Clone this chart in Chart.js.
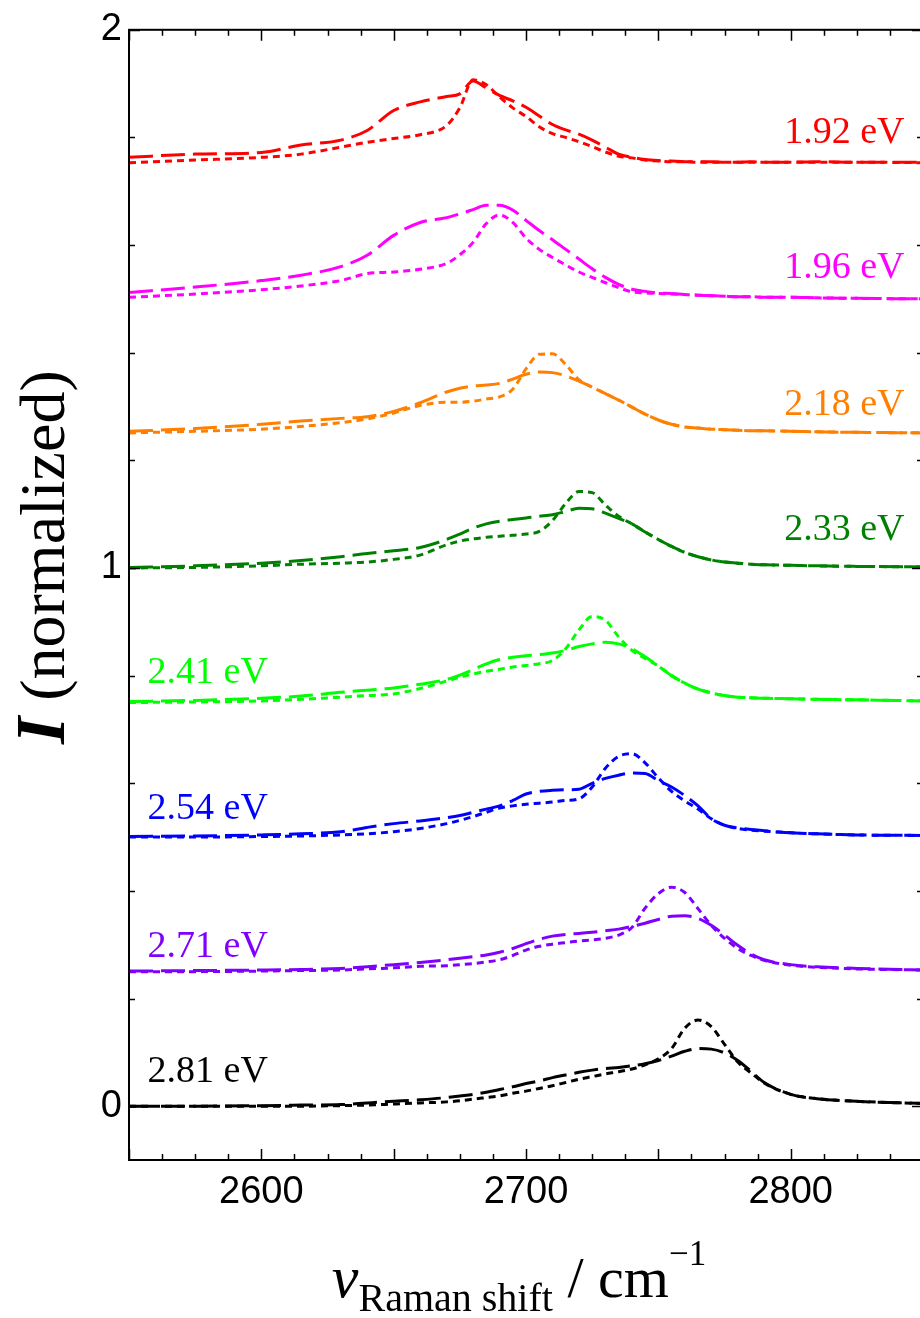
<!DOCTYPE html>
<html>
<head>
<meta charset="utf-8">
<script src="https://cdn.jsdelivr.net/npm/chart.js@4.4.1/dist/chart.umd.min.js"></script>
<style>
  html, body { margin: 0; padding: 0; background: #fff; overflow: hidden; }
  #cadre { width: 940px; height: 1318px; }
</style>
</head>
<body>
<div id="cadre"><canvas id="raman" width="940" height="1318"></canvas></div>
<script>
// Axe des abscisses : décalage Raman (cm-1)
const shifts = [
  2550, 2575, 2600, 2615, 2630, 2640, 2650, 2660,
  2670, 2675, 2680, 2685, 2690, 2695, 2700, 2705,
  2710, 2715, 2720, 2725, 2730, 2735, 2740, 2745,
  2750, 2755, 2760, 2765, 2770, 2775, 2780, 2785,
  2790, 2800, 2810, 2825, 2850
];

// Energies d'excitation et décalages verticaux
const energies = ['1.92 eV', '1.96 eV', '2.18 eV', '2.33 eV', '2.41 eV', '2.54 eV', '2.71 eV', '2.81 eV'];
const offsets = [1.75, 1.5, 1.25, 1.0, 0.75, 0.5, 0.25, 0];
const couleurs = ['#ff0000', '#ff00ff', '#ff8000', '#008000', '#00ff00', '#0000ff', '#8000ff', '#000000'];

// Graduations
const xTickLabels = [2600, 2700, 2800];
const yTickLabels = [0, 1, 2];

// Spectres : courbe large (tirets) et courbe étroite (pointillés)
const large192 = [
  0.013, 0.019, 0.022, 0.036, 0.045, 0.063, 0.100, 0.116,
  0.126, 0.131, 0.155, 0.142, 0.128, 0.118, 0.106, 0.090,
  0.074, 0.064, 0.056, 0.045, 0.032, 0.019, 0.013, 0.009,
  0.007, 0.006, 0.005, 0.005, 0.005, 0.004, 0.004, 0.005,
  0.004, 0.004, 0.005, 0.004, 0.004
];
const etroit192 = [
  0.003, 0.008, 0.013, 0.019, 0.032, 0.041, 0.048, 0.055,
  0.072, 0.105, 0.157, 0.148, 0.125, 0.105, 0.089, 0.070,
  0.057, 0.050, 0.042, 0.033, 0.023, 0.015, 0.012, 0.008,
  0.006, 0.005, 0.005, 0.004, 0.004, 0.004, 0.004, 0.004,
  0.004, 0.004, 0.004, 0.004, 0.003
];
const large196 = [
  0.012, 0.022, 0.034, 0.044, 0.060, 0.081, 0.118, 0.142,
  0.151, 0.158, 0.166, 0.174, 0.174, 0.165, 0.146, 0.127,
  0.110, 0.092, 0.074, 0.056, 0.040, 0.027, 0.018, 0.014,
  0.011, 0.010, 0.008, 0.007, 0.006, 0.005, 0.004, 0.004,
  0.003, 0.003, 0.002, 0.001, 0.000
];
const etroit196 = [
  0.003, 0.009, 0.017, 0.024, 0.034, 0.047, 0.050, 0.055,
  0.066, 0.082, 0.105, 0.140, 0.156, 0.142, 0.113, 0.092,
  0.077, 0.063, 0.050, 0.040, 0.030, 0.021, 0.013, 0.011,
  0.010, 0.009, 0.008, 0.007, 0.006, 0.005, 0.004, 0.004,
  0.003, 0.003, 0.002, 0.001, 0.000
];
const large218 = [
  0.004, 0.009, 0.017, 0.023, 0.028, 0.031, 0.041, 0.057,
  0.077, 0.084, 0.088, 0.090, 0.093, 0.101, 0.110, 0.114,
  0.113, 0.107, 0.097, 0.086, 0.074, 0.062, 0.049, 0.036,
  0.025, 0.017, 0.012, 0.010, 0.008, 0.007, 0.006, 0.005,
  0.005, 0.004, 0.003, 0.002, 0.001
];
const etroit218 = [
  0.001, 0.004, 0.008, 0.013, 0.020, 0.027, 0.038, 0.052,
  0.058, 0.058, 0.060, 0.064, 0.068, 0.082, 0.120, 0.147,
  0.148, 0.128, 0.100, 0.086, 0.074, 0.062, 0.049, 0.036,
  0.025, 0.017, 0.012, 0.010, 0.008, 0.007, 0.006, 0.005,
  0.005, 0.004, 0.003, 0.002, 0.001
];
const large233 = [
  0.001, 0.004, 0.009, 0.014, 0.021, 0.027, 0.032, 0.038,
  0.053, 0.063, 0.074, 0.082, 0.087, 0.090, 0.093, 0.096,
  0.099, 0.105, 0.111, 0.110, 0.102, 0.092, 0.082, 0.067,
  0.053, 0.040, 0.029, 0.021, 0.015, 0.011, 0.009, 0.007,
  0.006, 0.005, 0.004, 0.003, 0.002
];
const etroit233 = [
  0.000, 0.001, 0.004, 0.007, 0.009, 0.011, 0.016, 0.024,
  0.043, 0.050, 0.054, 0.057, 0.059, 0.061, 0.063, 0.068,
  0.088, 0.120, 0.142, 0.140, 0.117, 0.096, 0.082, 0.067,
  0.053, 0.040, 0.029, 0.021, 0.015, 0.011, 0.009, 0.007,
  0.006, 0.005, 0.004, 0.003, 0.002
];
const large241 = [
  0.002, 0.004, 0.008, 0.012, 0.019, 0.023, 0.027, 0.034,
  0.043, 0.051, 0.061, 0.072, 0.080, 0.084, 0.087, 0.089,
  0.092, 0.097, 0.104, 0.109, 0.112, 0.109, 0.100, 0.085,
  0.068, 0.050, 0.036, 0.025, 0.018, 0.013, 0.010, 0.009,
  0.008, 0.007, 0.006, 0.005, 0.003
];
const etroit241 = [
  0.000, 0.001, 0.003, 0.006, 0.010, 0.013, 0.016, 0.026,
  0.040, 0.047, 0.053, 0.058, 0.062, 0.066, 0.069, 0.072,
  0.078, 0.100, 0.135, 0.160, 0.153, 0.122, 0.097, 0.082,
  0.068, 0.050, 0.036, 0.025, 0.018, 0.013, 0.010, 0.009,
  0.008, 0.007, 0.006, 0.005, 0.003
];
const large254 = [
  0.001, 0.002, 0.004, 0.006, 0.010, 0.018, 0.025, 0.030,
  0.036, 0.040, 0.046, 0.052, 0.058, 0.068, 0.080, 0.085,
  0.087, 0.088, 0.089, 0.100, 0.109, 0.115, 0.119, 0.118,
  0.105, 0.093, 0.077, 0.058, 0.034, 0.022, 0.017, 0.014,
  0.012, 0.008, 0.006, 0.004, 0.003
];
const etroit254 = [
  0.000, 0.000, 0.001, 0.002, 0.004, 0.006, 0.010, 0.016,
  0.025, 0.031, 0.038, 0.046, 0.054, 0.058, 0.061, 0.063,
  0.065, 0.068, 0.071, 0.093, 0.128, 0.150, 0.155, 0.138,
  0.110, 0.085, 0.067, 0.052, 0.034, 0.022, 0.016, 0.013,
  0.011, 0.008, 0.006, 0.004, 0.003
];
const large271 = [
  0.001, 0.002, 0.003, 0.004, 0.006, 0.009, 0.013, 0.017,
  0.022, 0.025, 0.028, 0.031, 0.036, 0.043, 0.052, 0.060,
  0.066, 0.069, 0.071, 0.073, 0.076, 0.079, 0.084, 0.090,
  0.097, 0.103, 0.104, 0.099, 0.086, 0.068, 0.049, 0.033,
  0.022, 0.013, 0.009, 0.006, 0.003
];
const etroit271 = [
  0.000, 0.000, 0.001, 0.002, 0.003, 0.005, 0.007, 0.010,
  0.011, 0.013, 0.015, 0.018, 0.022, 0.030, 0.040, 0.047,
  0.051, 0.054, 0.057, 0.059, 0.062, 0.068, 0.082, 0.118,
  0.145, 0.157, 0.147, 0.117, 0.086, 0.062, 0.043, 0.030,
  0.021, 0.012, 0.008, 0.005, 0.003
];
const large281 = [
  0.000, 0.000, 0.001, 0.002, 0.003, 0.006, 0.009, 0.012,
  0.016, 0.019, 0.022, 0.026, 0.031, 0.036, 0.042, 0.047,
  0.053, 0.058, 0.063, 0.067, 0.070, 0.072, 0.075, 0.079,
  0.085, 0.093, 0.102, 0.107, 0.106, 0.099, 0.085, 0.065,
  0.044, 0.022, 0.014, 0.009, 0.005
];
const etroit281 = [
  0.000, 0.000, 0.000, 0.000, 0.001, 0.002, 0.004, 0.006,
  0.008, 0.010, 0.013, 0.016, 0.019, 0.024, 0.028, 0.033,
  0.038, 0.044, 0.050, 0.055, 0.060, 0.064, 0.069, 0.077,
  0.088, 0.107, 0.145, 0.160, 0.148, 0.115, 0.082, 0.062,
  0.043, 0.022, 0.014, 0.009, 0.005
];

const spectres = [
  [large192, etroit192], [large196, etroit196], [large218, etroit218], [large233, etroit233],
  [large241, etroit241], [large254, etroit254], [large271, etroit271], [large281, etroit281]
];

// Position des étiquettes (coordonnées des données, relatives à la ligne de base)
const etiquetteX = [2843, 2843, 2843, 2843, 2557, 2557, 2557, 2557];
const etiquetteY = [0.063, 0.063, 0.059, 0.077, 0.060, 0.058, 0.052, 0.069];
const etiquetteAlign = ['right', 'right', 'right', 'right', 'left', 'left', 'left', 'left'];

const serif = '"Liberation Serif", "Times New Roman", serif';
const sans = '"Liberation Sans", Arial, sans-serif';

// Construire les jeux de données
const datasets = [];
energies.forEach((e, i) => {
  const [large, etroit] = spectres[i];
  datasets.push({
    label: e + ' (large)',
    data: shifts.map((x, k) => ({ x: x, y: large[k] + offsets[i] })),
    borderColor: couleurs[i],
    borderWidth: 3,
    borderDash: [24, 8],
    pointRadius: 0,
    cubicInterpolationMode: 'monotone',
    fill: false
  });
  datasets.push({
    label: e + ' (étroit)',
    data: shifts.map((x, k) => ({ x: x, y: etroit[k] + offsets[i] })),
    borderColor: couleurs[i],
    borderWidth: 3,
    borderDash: [7, 5],
    pointRadius: 0,
    cubicInterpolationMode: 'monotone',
    fill: false
  });
});

// Cadre, graduations intérieures, étiquettes et titres des axes
const decor = {
  id: 'decor',
  afterDraw(chart) {
    const ctx = chart.ctx;
    const a = chart.chartArea;
    const sx = chart.scales.x;
    const sy = chart.scales.y;
    ctx.save();
    ctx.strokeStyle = '#000';
    ctx.lineWidth = 2;
    ctx.strokeRect(a.left, a.top, a.right - a.left, a.bottom - a.top);

    ctx.lineWidth = 1.5;
    ctx.beginPath();
    for (let v = sx.min; v <= sx.max + 0.01; v += 12.5) {
      const px = Math.round(sx.getPixelForValue(v)) + 0.5;
      const len = (v % 50 === 0) ? 11 : 6;
      ctx.moveTo(px, a.bottom); ctx.lineTo(px, a.bottom - len);
      ctx.moveTo(px, a.top); ctx.lineTo(px, a.top + len);
    }
    for (let k = 0; k <= 10; k++) {
      const v = k * 0.2;
      const py = Math.round(sy.getPixelForValue(v)) + 0.5;
      const len = (k % 5 === 0) ? 11 : 6;
      ctx.moveTo(a.left, py); ctx.lineTo(a.left + len, py);
      ctx.moveTo(a.right, py); ctx.lineTo(a.right - len, py);
    }
    ctx.stroke();

    // Etiquettes des énergies
    ctx.font = '38px ' + serif;
    ctx.textBaseline = 'alphabetic';
    energies.forEach((e, i) => {
      ctx.fillStyle = couleurs[i];
      ctx.textAlign = etiquetteAlign[i];
      const px = sx.getPixelForValue(etiquetteX[i]);
      const py = sy.getPixelForValue(offsets[i] + etiquetteY[i]);
      ctx.fillText(e, px, py + 13);
    });

    // Titre de l'axe des ordonnées
    ctx.save();
    ctx.translate(64, 744);
    ctx.rotate(-Math.PI / 2);
    ctx.fillStyle = '#000';
    ctx.textAlign = 'left';
    ctx.font = 'italic bold 70px ' + serif;
    ctx.fillText('I', 0, 0);
    const wI = ctx.measureText('I').width;
    ctx.font = '64px ' + serif;
    ctx.fillText(' (normalized)', wI, 0);
    ctx.restore();

    // Titre de l'axe des abscisses
    ctx.fillStyle = '#000';
    ctx.textAlign = 'left';
    const morceaux = [
      { t: 'ν', f: 'italic 60px ' + serif, dy: 0 },
      { t: 'Raman shift', f: '40px ' + serif, dy: 14 },
      { t: ' / cm', f: '58px ' + serif, dy: 0 },
      { t: '−1', f: '35px ' + serif, dy: -32 }
    ];
    let total = 0;
    morceaux.forEach(m => { ctx.font = m.f; m.w = ctx.measureText(m.t).width; total += m.w; });
    let x = 519 - total / 2;
    morceaux.forEach(m => {
      ctx.font = m.f;
      ctx.fillText(m.t, x, 1297 + m.dy);
      x += m.w;
    });
    ctx.restore();
  }
};

const ctx = document.getElementById('raman').getContext('2d');
new Chart(ctx, {
  type: 'line',
  data: { datasets: datasets },
  options: {
    responsive: false,
    animation: false,
    devicePixelRatio: 1,
    layout: { padding: { left: 0, right: 17, top: 27, bottom: 0 } },
    plugins: {
      legend: { display: false },
      tooltip: { enabled: false }
    },
    scales: {
      x: {
        type: 'linear',
        min: 2550,
        max: 2850,
        grid: { display: false, drawTicks: false },
        border: { display: false },
        afterBuildTicks: axis => { axis.ticks = xTickLabels.map(v => ({ value: v })); },
        afterFit: s => { s.height = 158; },
        ticks: {
          autoSkip: false,
          maxRotation: 0,
          padding: 10,
          color: '#000',
          font: { family: sans, size: 38 },
          callback: v => String(v)
        }
      },
      y: {
        type: 'linear',
        min: -0.1,
        max: 2,
        grid: { display: false, drawTicks: false },
        border: { display: false },
        afterBuildTicks: axis => { axis.ticks = yTickLabels.map(v => ({ value: v })); },
        afterFit: s => { s.width = 129; },
        ticks: {
          autoSkip: false,
          padding: 7,
          color: '#000',
          font: { family: sans, size: 38 },
          callback: v => String(v)
        }
      }
    }
  },
  plugins: [decor]
});
</script>
</body>
</html>
